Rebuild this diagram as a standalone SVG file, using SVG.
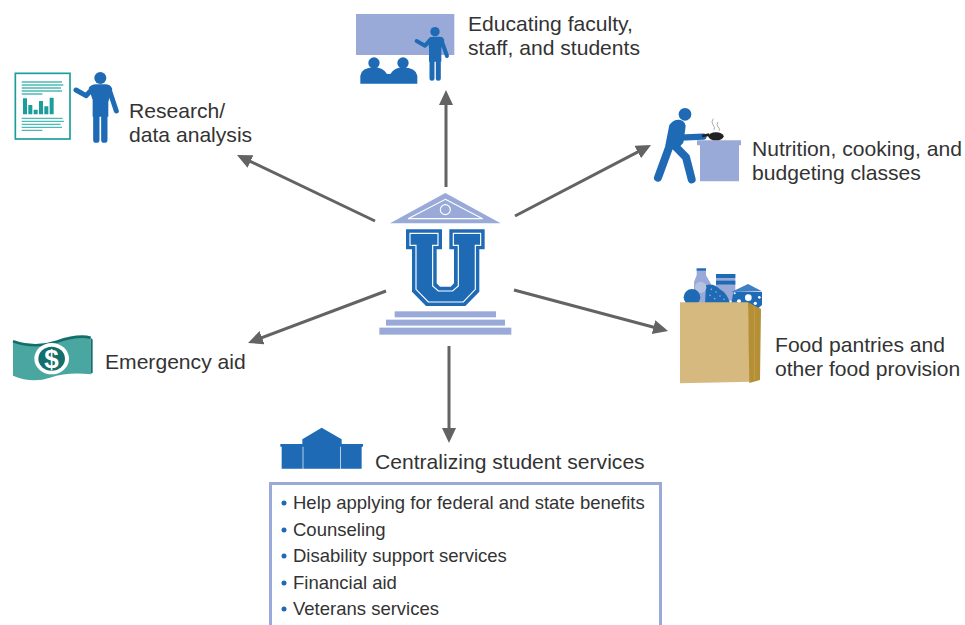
<svg xmlns="http://www.w3.org/2000/svg" width="965" height="625" viewBox="0 0 965 625">
<defs>
<marker id="ah" markerUnits="userSpaceOnUse" markerWidth="18" markerHeight="16" refX="10" refY="7" orient="auto"><path d="M0,0L15,7L0,14Z" fill="#636363"/></marker>
</defs>
<style>
.t{font-family:"Liberation Sans",Arial,sans-serif;font-size:21.1px;fill:#333}
.s{font-family:"Liberation Sans",Arial,sans-serif;font-size:18.5px;fill:#333}
.b{fill:#1f6ab5}.l{fill:#9aaad8}.g{fill:#1a9e9c}
.c{stroke:#636363;stroke-width:3;fill:none;marker-end:url(#ah)}
.bl{stroke:#1f6ab5;stroke-linecap:round;stroke-linejoin:round;fill:none}
</style>
<rect width="965" height="625" fill="#fff"/>
<g id="connectors">
<path class="c" d="M446,187V95"/>
<path class="c" d="M375,221L241.500,157.200"/>
<path class="c" d="M515,216L646.600,147.300"/>
<path class="c" d="M514,290L663.200,329.700"/>
<path class="c" d="M386,291L252.700,341.200"/>
<path class="c" d="M449,346V438"/>
</g>
<g id="university" transform="translate(360,180) scale(0.3333)">
<path class="l" d="M256,39L422,130H90Z"/>
<path d="M256,58L368,116H144Z" fill="none" stroke="#fff" stroke-width="3.5"/>
<circle cx="256" cy="89" r="15" fill="none" stroke="#fff" stroke-width="3.5"/>
<path class="b" d="M138,148H246V208H230V310L240,320H272L282,310V208H268V148H374V208H358V335L316,378H198L156,335V208H138Z"/>
<path d="M150,160H234V196H218V318L235,333H278L295,318V196H280V160H362V196H346V328L310,366H205L168,328V196H150Z" fill="none" stroke="#fff" stroke-width="3.5"/>
<rect class="l" x="104" y="394" width="304" height="18"/>
<rect class="l" x="78" y="419" width="357" height="18"/>
<rect class="l" x="58" y="443" width="396" height="21"/>
</g>
<g id="research">
<g transform="translate(0,60) scale(0.3333)">
<rect x="46" y="40" width="164" height="197" fill="#fff" stroke="#1a9e9c" stroke-width="5"/>
<path d="M65,66H186M65,75H190M65,84H183M65,93H186M65,102H127M65,175H188M65,184H192M65,193H182M65,202H186M65,211H127" stroke="#4dbab6" stroke-width="4"/>
<path class="g" d="M69,115H81V163H69ZM85,135H97V163H85ZM101,149H113V163H101ZM117,123H129V163H117ZM133,139H145V163H133ZM149,113H161V163H149Z"/>
<circle class="b" cx="301" cy="54" r="18"/>
<path class="bl" stroke-width="15" d="M228,90L258,107L280,84M326,84L349,153"/>
<path class="b" d="M266,84Q274,73 288,73H316Q332,73 337,88L325,125V170H278V120Z"/>
<path class="bl" stroke-width="19" d="M289,160V239M313,160V239"/>
</g>
<text class="t" x="129" y="118">Research/</text>
<text class="t" x="129" y="142">data analysis</text>
</g>
<g id="educating">
<g transform="translate(345,5) scale(0.3333)">
<rect class="l" x="33" y="27" width="295" height="123"/>
<circle class="b" cx="87" cy="174" r="17"/>
<circle class="b" cx="174" cy="174" r="17"/>
<path class="b" d="M46,236V212Q50,188 87,187Q115,188 126,207H136Q148,188 174,187Q212,188 217,212V236Z"/>
<circle cx="270" cy="80" r="14" class="b"/>
<path class="bl" stroke-width="12" d="M215,108L240,122L258,102M288,102L306,153"/>
<path class="b" d="M248,104Q254,95 264,95H284Q295,95 298,106L289,130V170H252V128Z"/>
<path class="bl" stroke-width="15" d="M261,160V220M280,160V220"/>
</g>
<text class="t" x="468" y="31">Educating faculty,</text>
<text class="t" x="468" y="55">staff, and students</text>
</g>
<g id="nutrition">
<g transform="translate(640,100) scale(0.3333)">
<path class="l" d="M171,121H303V136H297V244H180V136H171Z"/>
<circle class="b" cx="135" cy="43" r="19"/>
<path class="b" d="M88,75Q102,56 122,60Q140,66 136,86L130,128L108,152L76,136Z"/>
<path class="bl" stroke-width="24" d="M90,135L54,233M102,135L138,172L155,238"/>
<path class="bl" stroke-width="19" d="M120,113L190,110"/>
<path d="M186,108L208,104" stroke="#222" stroke-width="8"/>
<ellipse cx="228" cy="109" rx="23" ry="12" fill="#222"/>
<path d="M220,56Q212,66 219,74T222,90M234,66Q228,74 234,80T238,92" fill="none" stroke="#999" stroke-width="2.5"/>
</g>
<text class="t" x="752" y="156">Nutrition, cooking, and</text>
<text class="t" x="752" y="180">budgeting classes</text>
</g>
<g id="food">
<g transform="translate(670,260) scale(0.3333)">
<path class="l" d="M80,26H108V46L122,70V130H72V66L80,46Z"/>
<rect class="b" x="80" y="25" width="28" height="7"/>
<rect class="l" x="138" y="42" width="58" height="80"/>
<rect class="b" x="138" y="42" width="58" height="12"/>
<rect class="b" x="138" y="62" width="58" height="12"/>
<path class="l" d="M145,74H190L172,130H160Z"/>
<path class="b" d="M108,76Q130,68 150,88Q172,100 180,130H105Z"/>
<circle cx="92" cy="82" r="17" fill="#b6c2e2"/>
<g fill="#9aaad8"><circle cx="124" cy="88" r="2.500"/><circle cx="138" cy="96" r="2.500"/><circle cx="120" cy="106" r="2.500"/><circle cx="150" cy="108" r="2.500"/><circle cx="134" cy="116" r="2.500"/><circle cx="162" cy="118" r="2.500"/></g>
<circle class="b" cx="66" cy="112" r="25"/>
<path class="b" d="M190,96H276V135L262,147L184,130Z"/>
<path d="M184,96L234,72L276,94Z" fill="#3f7fc2"/>
<g fill="#fff"><circle cx="235" cy="113" r="10"/><circle cx="207" cy="124" r="6"/><circle cx="194" cy="100" r="3"/><circle cx="256" cy="130" r="5"/><circle cx="268" cy="112" r="4"/></g>
<path d="M30,127H234L242,365L30,370Z" fill="#d5b97f"/>
<path d="M234,127L273,147L270,360L238,369Z" fill="#b58f36"/>
<path d="M254,140L254,358" stroke="#c9a755" stroke-width="2"/>
</g>
<text class="t" x="775" y="352">Food pantries and</text>
<text class="t" x="775" y="376">other food provision</text>
</g>
<g id="aid">
<g transform="translate(0,325) scale(0.3333)">
<path d="M39,49Q105,72 170,50T272,38V148Q205,140 150,158T39,152Z" fill="#4aa6a0"/>
<path d="M39,49Q105,72 170,50T272,38" fill="none" stroke="#136e6c" stroke-width="8"/>
<path d="M272,38V148L278,142V44Z" fill="#136e6c"/>
<ellipse cx="155" cy="101" rx="52" ry="47" fill="#fff"/>
<ellipse cx="155" cy="101" rx="40" ry="36" fill="#136e6c"/>
</g>
<text x="51.500" y="368" font-family="Liberation Sans,Arial,sans-serif" font-size="26" font-weight="bold" fill="#fff" text-anchor="middle">$</text>
<text class="t" x="105" y="369">Emergency aid</text>
</g>
<g id="services">
<g transform="translate(265,420) scale(0.3333)">
<path class="b" d="M46,72H112V58L170,23L230,58V72H294V80H290V146H228V80H226V146H115V80H113V146H50V80H46Z"/>
</g>
<text class="t" x="375" y="469">Centralizing student services</text>
<rect x="270.500" y="483.500" width="390" height="160" fill="#fff" stroke="#9aaad8" stroke-width="3"/>
<g fill="#1f6ab5"><circle cx="284" cy="503" r="2.500"/><circle cx="284" cy="530" r="2.500"/><circle cx="284" cy="556" r="2.500"/><circle cx="284" cy="583" r="2.500"/><circle cx="284" cy="609" r="2.500"/></g>
<text class="s" x="293" y="509">Help applying for federal and state benefits</text>
<text class="s" x="293" y="536">Counseling</text>
<text class="s" x="293" y="562">Disability support services</text>
<text class="s" x="293" y="589">Financial aid</text>
<text class="s" x="293" y="615">Veterans services</text>
</g>
</svg>
